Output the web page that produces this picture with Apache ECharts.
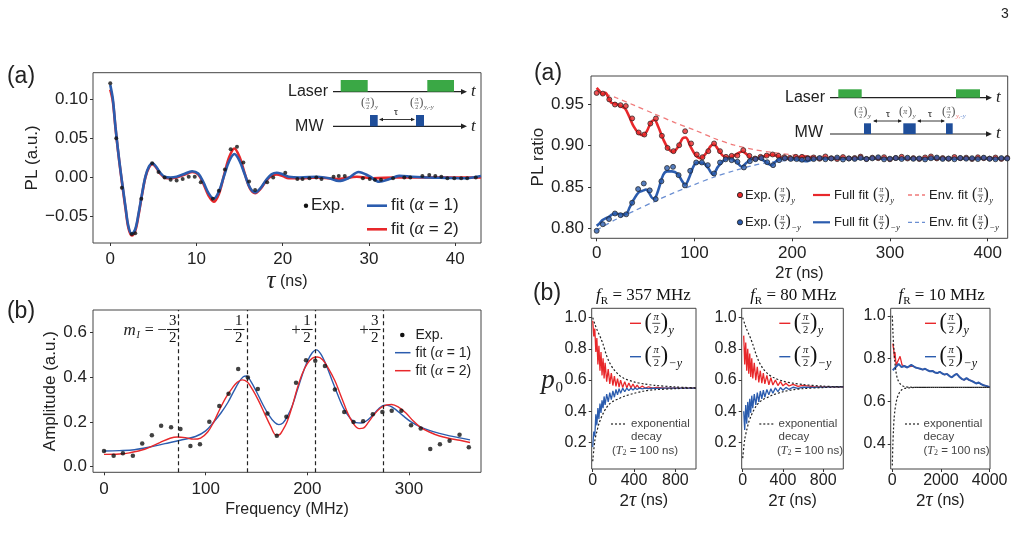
<!DOCTYPE html>
<html lang="en">
<head>
<meta charset="UTF-8" />
<title>Ramsey and echo figure</title>
<script src="https://cdn.jsdelivr.net/npm/echarts@6.0.0/dist/echarts.min.js"></script>
<style>html,body{margin:0;padding:0;background:#fff}</style>
</head>
<body>
<div id="main" style="width:1020px;height:542px"></div>
<script>
// ---------- (a) left : PL vs tau ----------
const tauExp = [0,0.7,1.35,2.5,2.9,3.6,4.86,5.6,6.3,7.0,7.7,8.4,9.1,9.8,10.5,11.9,12.6,13.3,13.97,14.7,15.44,16.1,16.8,18.2,18.9,20.3,21.7,22.3,23.1,23.9,24.5,25.9,26.5,27.2,29.3,30.1,30.7,31.4,32.8,34.1,34.8,36.2,37.0,37.7,38.4,39.1,39.9,40.7,41.4,42.4];
const plExp = [0.120,0.050,-0.013,-0.072,-0.071,-0.027,0.018,0.007,0.000,-0.003,-0.004,-0.002,0.001,0.001,-0.006,-0.027,-0.017,0.010,0.036,0.039,0.019,-0.005,-0.016,-0.006,0.000,0.006,-0.002,-0.002,-0.001,0.000,-0.002,0.001,0.002,0.002,-0.001,-0.002,-0.003,-0.003,-0.001,0.000,0.000,0.002,0.003,0.002,0.001,-0.001,-0.001,-0.001,-0.001,0.000];
const tauFit1 = [0,0.3,0.6,0.9,1.2,1.5,1.8,2.1,2.5,2.9,3.3,3.7,4.1,4.5,4.9,5.3,5.8,6.3,7.0,7.7,8.5,9.5,10.2,10.8,11.4,12.0,12.6,13.2,13.8,14.4,15.0,15.6,16.2,16.8,17.4,18.1,18.7,19.3,20.0,20.7,22,24,25.4,26.5,27.6,28.8,30.0,31.2,32.4,33.5,35,37,39,41,43];
const fitA1 = [0.118,0.100,0.065,0.035,0.008,-0.016,-0.040,-0.062,-0.072,-0.066,-0.045,-0.020,0.002,0.014,0.018,0.014,0.006,0.001,0.000,0.001,0.004,0.008,0.005,-0.006,-0.020,-0.027,-0.018,0.002,0.021,0.030,0.021,0.004,-0.013,-0.019,-0.014,-0.003,0.004,0.006,0.004,0.001,0.000,0.001,-0.001,-0.0045,-0.001,0.007,0.002,-0.0055,-0.002,0.002,0.001,0.000,-0.0005,-0.001,0.002];
const tauFit2 = [0,0.3,0.6,0.9,1.2,1.5,1.8,2.1,2.5,2.9,3.3,3.7,4.1,4.5,4.9,5.3,5.8,6.3,7.0,7.7,8.5,9.5,10.2,10.8,11.4,12.0,12.6,13.2,13.8,14.4,15.0,15.6,16.2,16.8,17.4,18.1,18.7,19.3,20.0,20.7,22,24,26.5,28.6,30.5,33,37,43];
const fitA2 = [0.112,0.097,0.064,0.034,0.007,-0.018,-0.042,-0.064,-0.074,-0.068,-0.047,-0.021,0.001,0.013,0.017,0.013,0.005,0.000,-0.001,0.000,0.003,0.007,0.004,-0.008,-0.023,-0.031,-0.021,0.003,0.026,0.037,0.026,0.005,-0.014,-0.020,-0.015,-0.004,0.002,0.004,0.002,-0.001,-0.001,0.000,-0.002,0.001,-0.001,0.000,0.000,0.000];

// ---------- (b) left : amplitude spectrum ----------
const freqExp = [0,9.5,18.6,28.4,37.6,47.1,56.2,66,75.2,85,94.4,103.6,113.4,122.5,132,141.5,151.3,160.8,170,179.4,188.9,198.7,207.8,217.3,227.1,236.3,245.4,254.9,264.4,273.8,283,292.5,302,311.5,320.9,330.4,339.9,349.7,358.8];
const ampExp = [0.070,0.049,0.060,0.049,0.104,0.141,0.183,0.176,0.168,0.092,0.100,0.201,0.271,0.326,0.436,0.399,0.347,0.238,0.138,0.223,0.375,0.476,0.473,0.450,0.345,0.244,0.200,0.203,0.234,0.244,0.250,0.250,0.185,0.171,0.079,0.100,0.116,0.143,0.087];
const freqFit1 = [0,15,30,45,60,75,90,100,108,115,122,128,133,137,140,144,150,156,162,168,172,176,180,185,190,195,200,205,209,213,218,224,230,236,242,248,253,258,264,270,276,281,287,294,302,311,320,330,340,350,360];
const ampFit1 = [0.070,0.072,0.076,0.088,0.103,0.118,0.135,0.160,0.200,0.240,0.288,0.340,0.380,0.402,0.405,0.385,0.335,0.280,0.232,0.197,0.188,0.195,0.222,0.270,0.340,0.410,0.470,0.510,0.522,0.505,0.460,0.390,0.320,0.258,0.217,0.197,0.195,0.204,0.228,0.258,0.275,0.272,0.255,0.228,0.200,0.178,0.162,0.149,0.138,0.129,0.120];
const freqFit2 = [0,15,25,40,55,65,72,80,88,95,102,108,114,120,126,131,136,141,146,152,158,164,169,172,176,180,185,190,195,200,205,210,215,220,227,234,240,246,251,255,260,266,272,278,283,290,297,304,311,320,330,340,350,360];
const ampFit2 = [0.055,0.057,0.062,0.078,0.108,0.127,0.133,0.130,0.123,0.128,0.155,0.200,0.258,0.310,0.350,0.377,0.388,0.378,0.345,0.295,0.237,0.180,0.142,0.142,0.165,0.200,0.268,0.348,0.415,0.460,0.485,0.490,0.478,0.445,0.385,0.305,0.236,0.188,0.170,0.172,0.198,0.235,0.262,0.276,0.278,0.265,0.240,0.205,0.177,0.155,0.137,0.126,0.118,0.108];
const hfLines = [73.5, 140.5, 207.5, 274.2];

// ---------- (a) right : PL ratio ----------
const tailX = [210,216,222,228,234,240,246,252,258,264,270,276,282,288,294,300,306,312,318,324,330,336,342,348,354,360,366,372,378,384,390,396,402,408,414,420];
const redX = [0,6.3,12.9,18.7,24.4,29.8,36.3,43,48.8,54.9,60.6,66.7,72.5,78.6,84.4,90.5,96.6,102.4,108.2,114.2,120.1,126.2,132.3,138.1,143.9,150,156.2,162,167.7,173.9,180,186,191.9,197.6,203.7];
const redY = [0.9638,0.963,0.956,0.9498,0.949,0.948,0.933,0.916,0.9135,0.9268,0.9329,0.912,0.8973,0.8934,0.9006,0.9175,0.9027,0.8894,0.8861,0.8934,0.9027,0.8934,0.8865,0.8877,0.888,0.8946,0.8877,0.8845,0.8865,0.888,0.8894,0.8877,0.8861,0.8853,0.8865];
const redTail = [0.8865,0.8850,0.8858,0.8842,0.8870,0.8848,0.8838,0.8862,0.8845,0.8852,0.8868,0.8840,0.8855,0.8849,0.8861,0.8836,0.8852,0.8866,0.8845,0.8850,0.8839,0.8858,0.8870,0.8846,0.8851,0.8842,0.8863,0.8848,0.8855,0.8838,0.8860,0.8849,0.8844,0.8857,0.8840,0.8852];
const blueX = [0,6.3,12.6,18.7,24.4,30.2,36.3,42.4,48.2,54.3,60.4,66.2,72,78.1,83.8,90.3,95.7,101.8,107.6,113.7,120.1,126.2,132,138.1,144,150.6,156.7,162.5,168.5,174.5,180.5,186.6,192.5,198.5,204.5];
const blueY = [0.797,0.805,0.8113,0.818,0.816,0.817,0.831,0.8475,0.8543,0.846,0.8354,0.857,0.873,0.8744,0.8644,0.852,0.8696,0.8797,0.8797,0.8765,0.8664,0.8797,0.8835,0.8825,0.8805,0.8737,0.8813,0.8837,0.8850,0.8800,0.8765,0.8825,0.8848,0.8840,0.8838];
const blueTail = [0.8830,0.8842,0.8838,0.8851,0.8836,0.8845,0.8857,0.8833,0.8846,0.8840,0.8852,0.8838,0.8847,0.8860,0.8835,0.8843,0.8850,0.8839,0.8855,0.8841,0.8846,0.8834,0.8848,0.8857,0.8840,0.8845,0.8836,0.8852,0.8843,0.8849,0.8838,0.8855,0.8842,0.8836,0.8850,0.8845];
const fullRedX = [0,3,6,9,12,15,19,24,29,33,38,43,47.5,51.5,55.5,59,63,68,73,78,83,88,91,96,101,106,111,117,120,124,129,134,139,144,149,154,159,165,172,179,186,193,200,207,214,222,232,245,260,280,310,350,390,420];
const fullRed = [0.970,0.966,0.962,0.964,0.958,0.952,0.951,0.948,0.945,0.936,0.923,0.915,0.9125,0.918,0.928,0.931,0.923,0.908,0.897,0.8925,0.898,0.909,0.910,0.899,0.889,0.885,0.8895,0.900,0.9015,0.896,0.888,0.8855,0.887,0.8905,0.893,0.889,0.884,0.8845,0.8875,0.889,0.887,0.884,0.8845,0.8862,0.8865,0.8852,0.8845,0.8850,0.8848,0.8846,0.8846,0.8845,0.8845,0.8845];
const fullBlueX = [0,3,6,9,12.5,16,19.5,24.5,29.5,34,38,43,48,50.5,53,58,60,63.5,68,72,77,82.7,87,90.5,95,99.7,104,109,114,119,124,129.5,136,143,148.5,153,159,165,172,178.5,185,192,200,208,214,220,228,240,260,300,350,420];
const fullBlue = [0.803,0.806,0.810,0.812,0.814,0.817,0.818,0.817,0.817,0.826,0.835,0.8435,0.846,0.847,0.844,0.836,0.837,0.848,0.8645,0.869,0.869,0.866,0.858,0.853,0.8625,0.8765,0.8797,0.879,0.873,0.865,0.8744,0.8817,0.8848,0.8805,0.8745,0.879,0.8845,0.885,0.8813,0.8765,0.8825,0.885,0.8845,0.8825,0.8812,0.8830,0.8845,0.8842,0.8845,0.8843,0.8844,0.8844];
const envX = [0,20,40,60,80,100,120,140,160,180,200,220,240,260,280,300,340,380,420];
const envRed = [0.966,0.958,0.948,0.938,0.928,0.919,0.909,0.901,0.8955,0.8918,0.889,0.8875,0.8865,0.8858,0.8853,0.885,0.8847,0.8846,0.8845];
const envBlue = [0.798,0.811,0.822,0.833,0.8435,0.853,0.862,0.8695,0.876,0.8805,0.8825,0.8835,0.884,0.8842,0.8843,0.8844,0.8844,0.8844,0.8844];

// ---------- (b) right : p0 simulations ----------
const s1X = [0,10,20,30,40,50,60,70,80,90,100,110,120,135,150,165,180,195,210,225,240,255,270,290,310,330,350,370,390,410,430,450,480,510,540,580,620,700,800,900,1000];
const s1Red = [0.98,0.88,0.93,0.78,0.87,0.70,0.82,0.66,0.78,0.63,0.74,0.61,0.71,0.59,0.67,0.575,0.645,0.565,0.625,0.56,0.61,0.555,0.60,0.552,0.59,0.55,0.582,0.549,0.575,0.548,0.568,0.548,0.562,0.548,0.557,0.548,0.553,0.549,0.548,0.548,0.548];
const s1Blue = [0.17,0.27,0.24,0.38,0.31,0.42,0.35,0.45,0.39,0.47,0.42,0.495,0.44,0.51,0.46,0.52,0.475,0.53,0.49,0.54,0.505,0.545,0.515,0.548,0.525,0.549,0.532,0.549,0.537,0.549,0.54,0.549,0.543,0.549,0.545,0.549,0.547,0.548,0.548,0.548,0.548];
const s2X = [10,20,30,40,50,60,70,80,90,100,115,130,145,160,175,190,205,220,240,260,280,300,325,350,375,400,430,460,500,550,600,700,800,900,1000];
const s2Red = [0.885,0.70,0.84,0.66,0.80,0.64,0.77,0.62,0.74,0.61,0.71,0.60,0.685,0.585,0.66,0.58,0.645,0.575,0.63,0.57,0.615,0.568,0.60,0.565,0.59,0.563,0.58,0.562,0.572,0.56,0.566,0.558,0.557,0.556,0.556];
const s2Blue = [0.40,0.28,0.44,0.32,0.46,0.36,0.48,0.39,0.50,0.42,0.51,0.44,0.52,0.46,0.53,0.48,0.535,0.49,0.54,0.505,0.545,0.515,0.55,0.525,0.552,0.535,0.553,0.54,0.554,0.547,0.555,0.553,0.555,0.556,0.556];
const s3RedX = [20,60,90,110,140,170,200,240,280,320,360,400,440,480];
const s3Red = [0.87,0.84,0.80,0.83,0.79,0.76,0.78,0.775,0.80,0.81,0.79,0.77,0.762,0.765];
const s3X = [20,60,100,140,180,220,260,300,340,380,420,460,500,560,620,700,780,860,950,1050,1150,1250,1350,1450,1550,1650,1750,1850,1950,2050,2150,2250,2350,2450,2550,2650,2750,2850,2950,3050,3150,3250,3350,3450,3550,3650,3750,3850,3950,4000];
const s3Blue = [0.745,0.75,0.755,0.76,0.765,0.77,0.775,0.772,0.768,0.76,0.758,0.762,0.765,0.76,0.758,0.762,0.770,0.765,0.758,0.755,0.752,0.748,0.752,0.745,0.740,0.742,0.735,0.732,0.738,0.730,0.725,0.728,0.718,0.712,0.722,0.728,0.715,0.705,0.700,0.708,0.700,0.695,0.690,0.683,0.688,0.680,0.675,0.672,0.668,0.666];
const decX = [0,20,40,60,80,100,130,160,200,250,300,400,500,600,800,1000];
const dec1Up = [1.0,0.96,0.925,0.895,0.865,0.83,0.765,0.715,0.672,0.635,0.612,0.588,0.575,0.566,0.556,0.55];
const dec1Lo = [0.08,0.21,0.27,0.32,0.355,0.385,0.42,0.445,0.465,0.48,0.495,0.515,0.53,0.538,0.545,0.549];
const dec2Up = [1.0,0.96,0.925,0.895,0.865,0.83,0.77,0.72,0.675,0.64,0.618,0.593,0.58,0.571,0.561,0.557];
const dec2Lo = [0.10,0.22,0.28,0.33,0.365,0.395,0.43,0.455,0.475,0.49,0.505,0.525,0.538,0.545,0.552,0.556];
const dec3X = [0,25,50,75,100,150,200,250,300,400,500,700,1000,2000,3000,4000];
const dec3Up = [1.0,0.93,0.87,0.83,0.79,0.74,0.71,0.695,0.685,0.674,0.669,0.666,0.665,0.665,0.665,0.665];
const dec3Lo = [0.30,0.40,0.47,0.52,0.55,0.59,0.615,0.63,0.642,0.655,0.66,0.663,0.665,0.665,0.665,0.665];

const SANS = 'Liberation Sans', SERIF = 'Liberation Serif';
const BLUE = '#2b5cae', RED = '#e8282b', BLUE_D = '#6b8fd2', RED_D = '#f07a7a';
const GREEN = '#3aa845', PULSE = '#1f4e9a';
const zip = (xs, ys) => xs.map((x, i) => [x, ys[i]]);

const chart = echarts.init(document.getElementById('main'));

function xAx(gi, min, max, ticks, name, gap, margin, rich, fs) {
  return {
    type: 'value', gridIndex: gi, min: min, max: max,
    axisLine: { show: false, onZero: false }, splitLine: { show: false },
    axisTick: { show: true, inside: false, length: 3, customValues: ticks, lineStyle: { color: '#333' } },
    axisLabel: { customValues: ticks, margin: margin, color: '#222', fontFamily: SANS, fontSize: fs || 16, formatter: v => String(v) },
    name: name, nameLocation: 'middle', nameGap: gap,
    nameTextStyle: { color: '#222', fontFamily: SANS, fontSize: 16, rich: rich }
  };
}
function yAx(gi, min, max, ticks, fmt, name, gap, margin, fs) {
  return {
    type: 'value', gridIndex: gi, min: min, max: max,
    axisLine: { show: false, onZero: false }, splitLine: { show: false },
    axisTick: { show: true, inside: false, length: 3, customValues: ticks, lineStyle: { color: '#333' } },
    axisLabel: { customValues: ticks, margin: margin, color: '#222', fontFamily: SANS, fontSize: fs || 16, formatter: fmt },
    name: name, nameLocation: 'middle', nameGap: gap,
    nameTextStyle: { color: '#222', fontFamily: SANS, fontSize: 17 }
  };
}
const grid = (l, t, w, h) => ({ left: l, top: t, width: w, height: h, show: true, borderColor: '#444', borderWidth: 1, outerBoundsMode: 'none', containLabel: false });

const tauRich = { t: { fontFamily: SERIF, fontStyle: 'italic', fontSize: 25, color: '#222' }, n: { fontFamily: SANS, fontSize: 16, color: '#222' } };
const tau2Rich = { d: { fontFamily: SANS, fontSize: 17, color: '#222' }, t: { fontFamily: SERIF, fontStyle: 'italic', fontSize: 20, color: '#222' }, n: { fontFamily: SANS, fontSize: 16, color: '#222' } };
const f1 = v => v.toFixed(1), f2 = v => v.toFixed(2);

const option = {
  animation: false,
  backgroundColor: '#fff',
  grid: [grid(93, 72.7, 388, 170.3), grid(93, 310, 388, 162.3), grid(591, 76, 416.7, 162.3),
         grid(591.7, 308.3, 104.3, 160.7), grid(741.7, 308.3, 101.6, 160.7), grid(890.7, 308.3, 99.3, 160.7)],
  xAxis: [
    xAx(0, -2, 43, [0, 10, 20, 30, 40], '{t|τ} {n|(ns)}', 22, 8, tauRich, 17),
    xAx(1, -10.8, 370.8, [0, 100, 200, 300], 'Frequency (MHz)', 29, 9, null, 17),
    xAx(2, -5.8, 420.5, [0, 100, 200, 300, 400], '{d|2}{t|τ} {n|(ns)}', 21, 7, tau2Rich, 17),
    xAx(3, -10, 1000, [0, 400, 800], '{d|2}{t|τ} {n|(ns)}', 22, 4, tau2Rich),
    xAx(4, -10, 1000, [0, 400, 800], '{d|2}{t|τ} {n|(ns)}', 22, 4, tau2Rich),
    xAx(5, -65, 4015, [0, 2000, 4000], '{d|2}{t|τ} {n|(ns)}', 22, 4, tau2Rich)
  ],
  yAxis: [
    yAx(0, -0.0835, 0.1335, [-0.05, 0, 0.05, 0.1], v => (v < 0 ? '\u2212' : '') + Math.abs(v).toFixed(2), 'PL (a.u.)', 52, 5, 17),
    yAx(1, -0.025, 0.70, [0, 0.2, 0.4, 0.6], f1, 'Amplitude (a.u.)', 34, 6, 17),
    yAx(2, 0.788, 0.9843, [0.80, 0.85, 0.90, 0.95], f2, 'PL ratio', 40, 7, 17),
    yAx(3, 0.03, 1.06, [0.2, 0.4, 0.6, 0.8, 1.0], f1, '', 30, 5),
    yAx(4, 0.03, 1.06, [0.2, 0.4, 0.6, 0.8, 1.0], f1, '', 30, 5),
    yAx(5, 0.283, 1.035, [0.4, 0.6, 0.8, 1.0], f1, '', 30, 5)
  ],
  series: [
    // (a) left
    { type: 'line', xAxisIndex: 0, yAxisIndex: 0, data: zip(tauFit2, fitA2), smooth: 0.35, symbol: 'none', lineStyle: { color: RED, width: 2.6 }, z: 2 },
    { type: 'line', xAxisIndex: 0, yAxisIndex: 0, data: zip(tauFit1, fitA1), smooth: 0.35, symbol: 'none', lineStyle: { color: BLUE, width: 2.6 }, z: 3 },
    { type: 'scatter', xAxisIndex: 0, yAxisIndex: 0, data: zip(tauExp, plExp), symbolSize: 4, itemStyle: { color: '#111' }, z: 4 },
    // (b) left
    { type: 'line', xAxisIndex: 1, yAxisIndex: 1, data: zip(freqFit1, ampFit1), smooth: 0.35, symbol: 'none', lineStyle: { color: BLUE, width: 1.4 }, z: 2 },
    { type: 'line', xAxisIndex: 1, yAxisIndex: 1, data: zip(freqFit2, ampFit2), smooth: 0.35, symbol: 'none', lineStyle: { color: RED, width: 1.4 }, z: 3 },
    { type: 'scatter', xAxisIndex: 1, yAxisIndex: 1, data: zip(freqExp, ampExp), symbolSize: 4.5, itemStyle: { color: '#111' }, z: 4,
      markLine: { silent: true, symbol: 'none', label: { show: false }, lineStyle: { type: [4, 3], color: '#222', width: 1.2 },
        data: hfLines.map(v => ({ xAxis: v })) } },
    // (a) right
    { type: 'line', xAxisIndex: 2, yAxisIndex: 2, data: zip(envX, envRed), smooth: 0.3, symbol: 'none', lineStyle: { color: RED_D, width: 1.3, type: [5, 4] }, z: 2 },
    { type: 'line', xAxisIndex: 2, yAxisIndex: 2, data: zip(envX, envBlue), smooth: 0.3, symbol: 'none', lineStyle: { color: BLUE_D, width: 1.3, type: [5, 4] }, z: 2 },
    { type: 'line', xAxisIndex: 2, yAxisIndex: 2, data: zip(fullRedX, fullRed), smooth: 0.35, symbol: 'none', lineStyle: { color: RED, width: 2.6 }, z: 3 },
    { type: 'line', xAxisIndex: 2, yAxisIndex: 2, data: zip(fullBlueX, fullBlue), smooth: 0.35, symbol: 'none', lineStyle: { color: BLUE, width: 2.6 }, z: 3 },
    { type: 'scatter', xAxisIndex: 2, yAxisIndex: 2, data: zip(redX.concat(tailX), redY.concat(redTail)), symbolSize: 5, itemStyle: { color: RED, borderColor: '#222', borderWidth: 0.9 }, z: 4 },
    { type: 'scatter', xAxisIndex: 2, yAxisIndex: 2, data: zip(blueX.concat(tailX), blueY.concat(blueTail)), symbolSize: 5, itemStyle: { color: BLUE, borderColor: '#222', borderWidth: 0.9 }, z: 4 },
    // (b) right, f_R = 357 MHz
    { type: 'line', xAxisIndex: 3, yAxisIndex: 3, data: zip(s1X, s1Red), symbol: 'none', lineStyle: { color: RED, width: 1.3 }, z: 2 },
    { type: 'line', xAxisIndex: 3, yAxisIndex: 3, data: zip(s1X, s1Blue), symbol: 'none', lineStyle: { color: BLUE, width: 1.3 }, z: 2 },
    { type: 'line', xAxisIndex: 3, yAxisIndex: 3, data: zip(decX, dec1Up), smooth: 0.3, symbol: 'none', lineStyle: { color: '#222', width: 1.2, type: [2, 2] }, z: 3 },
    { type: 'line', xAxisIndex: 3, yAxisIndex: 3, data: zip(decX, dec1Lo), smooth: 0.3, symbol: 'none', lineStyle: { color: '#222', width: 1.2, type: [2, 2] }, z: 3 },
    // f_R = 80 MHz
    { type: 'line', xAxisIndex: 4, yAxisIndex: 4, data: zip(s2X, s2Red), symbol: 'none', lineStyle: { color: RED, width: 1.3 }, z: 2 },
    { type: 'line', xAxisIndex: 4, yAxisIndex: 4, data: zip(s2X, s2Blue), symbol: 'none', lineStyle: { color: BLUE, width: 1.3 }, z: 2 },
    { type: 'line', xAxisIndex: 4, yAxisIndex: 4, data: zip(decX, dec2Up), smooth: 0.3, symbol: 'none', lineStyle: { color: '#222', width: 1.2, type: [2, 2] }, z: 3 },
    { type: 'line', xAxisIndex: 4, yAxisIndex: 4, data: zip(decX, dec2Lo), smooth: 0.3, symbol: 'none', lineStyle: { color: '#222', width: 1.2, type: [2, 2] }, z: 3 },
    // f_R = 10 MHz
    { type: 'line', xAxisIndex: 5, yAxisIndex: 5, data: zip(s3RedX, s3Red).concat(zip(s3X, s3Blue).filter(p => p[0] > 480)), symbol: 'none', lineStyle: { color: RED, width: 1.3 }, z: 2 },
    { type: 'line', xAxisIndex: 5, yAxisIndex: 5, data: zip(s3X, s3Blue), symbol: 'none', lineStyle: { color: BLUE, width: 2 }, z: 2 },
    { type: 'line', xAxisIndex: 5, yAxisIndex: 5, data: zip(dec3X, dec3Up), smooth: 0.3, symbol: 'none', lineStyle: { color: '#222', width: 1.2, type: [2, 2] }, z: 3 },
    { type: 'line', xAxisIndex: 5, yAxisIndex: 5, data: zip(dec3X, dec3Lo), smooth: 0.3, symbol: 'none', lineStyle: { color: '#222', width: 1.2, type: [2, 2] }, z: 3 }
  ]
};
chart.setOption(option);

// ---------- annotations: legends, insets, labels ----------
const els = [];
function T(x, y, text, size, o) {
  o = o || {};
  const st = { text: text, fill: o.color || '#222', fontSize: size, fontFamily: o.family || SANS,
    fontStyle: o.italic ? 'italic' : 'normal', align: o.align || 'left', verticalAlign: o.va || 'middle',
    textAlign: o.align || 'left', textVerticalAlign: o.va || 'middle' };
  if (o.rich) st.rich = o.rich;
  els.push({ type: 'text', x: x, y: y, rotation: o.rot || 0, silent: true, z: 100, style: st });
}
function L(x1, y1, x2, y2, color, w, dash) {
  els.push({ type: 'line', silent: true, z: 100, shape: { x1: x1, y1: y1, x2: x2, y2: y2 }, style: { stroke: color, lineWidth: w, lineDash: dash || null } });
}
function R(x, y, w, h, color) { els.push({ type: 'rect', silent: true, z: 100, shape: { x: x, y: y, width: w, height: h }, style: { fill: color } }); }
function C(x, y, r, fill, stroke) { els.push({ type: 'circle', silent: true, z: 100, shape: { cx: x, cy: y, r: r }, style: { fill: fill, stroke: stroke || null, lineWidth: 0.9 } }); }
function tri(x, y, dir, s, color) {
  els.push({ type: 'polygon', silent: true, z: 100, shape: { points: [[x, y], [x - dir * s, y - s * 0.45], [x - dir * s, y + s * 0.45]] }, style: { fill: color } });
}
function frac(cx, cy, num, den, s, color) {
  T(cx, cy - 0.5, num, s, { align: 'center', va: 'bottom', family: SERIF, color: color, italic: num === 'π' });
  L(cx - s * 0.38, cy, cx + s * 0.38, cy, color, Math.max(0.7, s / 14));
  T(cx, cy + 1, den, s, { align: 'center', va: 'top', family: SERIF, color: color });
}
function pfrac(x, cy, s, num, den, sub, color) {
  const P = s * 2.1, pw = P * 0.333;
  T(x, cy, '(', P, { family: SERIF, color: color });
  let rx;
  if (den) { frac(x + pw + s * 0.42, cy, num, den, s, color); rx = x + pw + s * 0.84; }
  else { T(x + pw, cy, num, s * 1.3, { family: SERIF, italic: true, color: color }); rx = x + pw + s * 0.8; }
  T(rx, cy, ')', P, { family: SERIF, color: color });
  const rich = {}; let str = '';
  sub.forEach((p, i) => {
    rich['s' + i] = { fill: p[1] || color, color: p[1] || color, fontFamily: SERIF, fontStyle: 'italic', fontSize: s * 1.15 };
    str += '{s' + i + '|' + p[0] + '}';
  });
  T(rx + pw + 0.5, cy + s * 0.7, str, s * 1.15, { rich: rich, family: SERIF, italic: true, color: color });
}
const alphaRich = size => ({ t: { fontFamily: SANS, fontSize: size, fill: '#222', color: '#222' }, a: { fontFamily: SERIF, fontStyle: 'italic', fontSize: size + 1, fill: '#222', color: '#222' } });

// page number, panel letters
T(1005, 14, '3', 14, { align: 'center' });
T(21, 77, '(a)', 23, { align: 'center' });
T(21, 312, '(b)', 23, { align: 'center' });
T(548, 74, '(a)', 23, { align: 'center' });
T(547, 294, '(b)', 23, { align: 'center' });

// (a) left legend
C(306, 205.7, 2.2, '#111');
T(311, 205.7, 'Exp.', 17);
L(367, 205.7, 387, 205.7, BLUE, 2.6);
T(391, 205.7, '{t|fit (}{a|α}{t| = 1)}', 17, { rich: alphaRich(17) });
L(367, 229.3, 387, 229.3, RED, 2.6);
T(391, 229.3, '{t|fit (}{a|α}{t| = 2)}', 17, { rich: alphaRich(17) });

// (a) left inset pulse sequence
T(328, 92, 'Laser', 16, { align: 'right' });
L(333, 91.7, 462, 91.7, '#222', 1.2); tri(467, 91.7, 1, 6, '#222');
T(471, 92, 't', 17, { family: SERIF, italic: true });
R(340.7, 80, 27, 11.7, GREEN); R(427.3, 80, 26.7, 11.7, GREEN);
T(323.5, 127, 'MW', 16, { align: 'right' });
L(333, 126.3, 462, 126.3, '#222', 1.2); tri(467, 126.3, 1, 6, '#222');
T(471, 127, 't', 17, { family: SERIF, italic: true });
R(370, 115, 7.7, 11.3, PULSE); R(416, 115, 8, 11.3, PULSE);
L(380, 119.5, 414, 119.5, '#222', 0.9); tri(379, 119.5, -1, 4, '#222'); tri(415, 119.5, 1, 4, '#222');
T(396, 112.5, 'τ', 11, { family: SERIF, align: 'center' });
pfrac(361, 103, 6, 'π', '2', [['y']], '#555');
pfrac(410, 103, 6, 'π', '2', [['y,-y']], '#555');

// (b) left legend
C(402.3, 335, 2.3, '#111');
T(415.5, 335, 'Exp.', 14);
L(395, 352.7, 410.5, 352.7, BLUE, 1.5);
T(415.5, 352.7, '{t|fit (}{a|α}{t| = 1)}', 14, { rich: alphaRich(14) });
L(395, 370.7, 410.5, 370.7, RED, 1.5);
T(415.5, 370.7, '{t|fit (}{a|α}{t| = 2)}', 14, { rich: alphaRich(14) });

// (b) left hyperfine labels, placed at the dashed lines
const hfNum = ['3', '1', '1', '3'], hfSign = ['\u2212', '\u2212', '+', '+'];
hfLines.forEach((v, i) => {
  const px = chart.convertToPixel({ xAxisIndex: 1 }, v);
  const fc = px - (i === 0 ? 6 : 8);
  frac(fc, 329.5, hfNum[i], '2', 15, '#111');
  T(fc - 6, 330.5, hfSign[i], 17, { align: 'right', family: SERIF });
  if (i === 0) {
    T(fc - 19, 330.5, '=', 16, { align: 'right', family: SERIF });
    T(fc - 33, 335, 'I', 10, { align: 'right', family: SERIF, italic: true });
    T(fc - 37, 330.5, 'm', 17, { align: 'right', family: SERIF, italic: true });
  }
});

// (a) right legend
const LS = 13;
C(740, 195, 2.6, RED, '#222'); T(745, 195, 'Exp.', LS); pfrac(774, 195, 7.5, 'π', '2', [['y']], '#222');
C(740, 222.3, 2.6, BLUE, '#222'); T(745, 222.3, 'Exp.', LS); pfrac(774, 222.3, 7.5, 'π', '2', [['\u2212y']], '#222');
L(813, 195, 830, 195, RED, 2.2); T(834, 195, 'Full fit', LS); pfrac(873, 195, 7.5, 'π', '2', [['y']], '#222');
L(813, 222.3, 830, 222.3, BLUE, 2.2); T(834, 222.3, 'Full fit', LS); pfrac(873, 222.3, 7.5, 'π', '2', [['\u2212y']], '#222');
L(908, 195, 925, 195, RED_D, 1.3, [4, 3]); T(929, 195, 'Env. fit', LS); pfrac(972, 195, 7.5, 'π', '2', [['y']], '#222');
L(908, 222.3, 925, 222.3, BLUE_D, 1.3, [4, 3]); T(929, 222.3, 'Env. fit', LS); pfrac(972, 222.3, 7.5, 'π', '2', [['\u2212y']], '#222');

// (a) right inset pulse sequence
T(825, 98, 'Laser', 16, { align: 'right' });
L(830, 97.7, 987, 97.7, '#222', 1.2); tri(992, 97.7, 1, 6, '#222');
T(996, 98, 't', 17, { family: SERIF, italic: true });
R(838.3, 89.3, 23.4, 8.4, GREEN); R(956, 89.3, 24, 8.4, GREEN);
T(823, 133, 'MW', 16, { align: 'right' });
L(830, 134, 987, 134, '#222', 1.2); tri(992, 134, 1, 6, '#222');
T(996, 134, 't', 17, { family: SERIF, italic: true });
R(864, 123.3, 7, 10.7, PULSE); R(903.3, 123.3, 12.4, 10.7, PULSE); R(946, 123.3, 6.7, 10.7, PULSE);
L(874, 121, 901, 121, '#222', 0.9); tri(873, 121, -1, 4, '#222'); tri(902, 121, 1, 4, '#222');
L(918, 121, 944, 121, '#222', 0.9); tri(917, 121, -1, 4, '#222'); tri(945, 121, 1, 4, '#222');
T(888, 114, 'τ', 11, { family: SERIF, align: 'center' });
T(930, 114, 'τ', 11, { family: SERIF, align: 'center' });
pfrac(854, 112, 6, 'π', '2', [['y']], '#555');
pfrac(899, 112, 6, 'π', '', [['y']], '#555');
pfrac(942, 112, 6, 'π', '2', [['y,', RED_D], ['-y', BLUE_D]], '#555');

// (b) right: titles, legends, y label
const titleRich = {
  f: { fontFamily: SERIF, fontStyle: 'italic', fontSize: 17, lineHeight: 22, verticalAlign: 'middle', fill: '#111', color: '#111' },
  r: { fontFamily: SERIF, fontSize: 11, lineHeight: 11, verticalAlign: 'bottom', fill: '#111', color: '#111' },
  t: { fontFamily: SERIF, fontSize: 17, lineHeight: 22, verticalAlign: 'middle', fill: '#111', color: '#111' }
};
T(643.5, 296, '{f|f}{r|R}{t| = 357 MHz}', 17, { align: 'center', rich: titleRich });
T(793.3, 296, '{f|f}{r|R}{t| = 80 MHz}', 17, { align: 'center', rich: titleRich });
T(941.7, 296, '{f|f}{r|R}{t| = 10 MHz}', 17, { align: 'center', rich: titleRich });
T(548, 381, 'p', 27, { family: SERIF, italic: true, align: 'center' });
T(555.5, 388, '0', 15, { family: SERIF });

const t2Rich = {
  t: { fontFamily: SANS, fontSize: 11.5, fill: '#444', color: '#444' },
  T: { fontFamily: SERIF, fontStyle: 'italic', fontSize: 12, fill: '#444', color: '#444' },
  s: { fontFamily: SERIF, fontSize: 8, fill: '#444', color: '#444', verticalAlign: 'bottom', lineHeight: 8 }
};
[[630, 611, 631, 612], [779.3, 759.3, 778.5, 777], [925, 905, 923.5, 923.5]].forEach(p => {
  L(p[0], 323.3, p[0] + 11, 323.3, RED, 1.4);
  pfrac(p[0] + 14.5, 323.3, 10.5, 'π', '2', [['y']], '#111');
  L(p[0], 356.7, p[0] + 11, 356.7, BLUE, 1.4);
  pfrac(p[0] + 14.5, 356.7, 10.5, 'π', '2', [['\u2212y']], '#111');
  L(p[1], 424, p[1] + 15, 424, '#222', 1.2, [2, 2]);
  T(p[2], 424, 'exponential', 11.5, { color: '#444' });
  T(p[2], 437.3, 'decay', 11.5, { color: '#444' });
  T(p[3], 450.7, '{t|(}{T|T}{s|2}{t| = 100 ns)}', 11.5, { rich: t2Rich, color: '#444' });
});

chart.setOption({ graphic: { elements: els } });
</script>
</body>
</html>
